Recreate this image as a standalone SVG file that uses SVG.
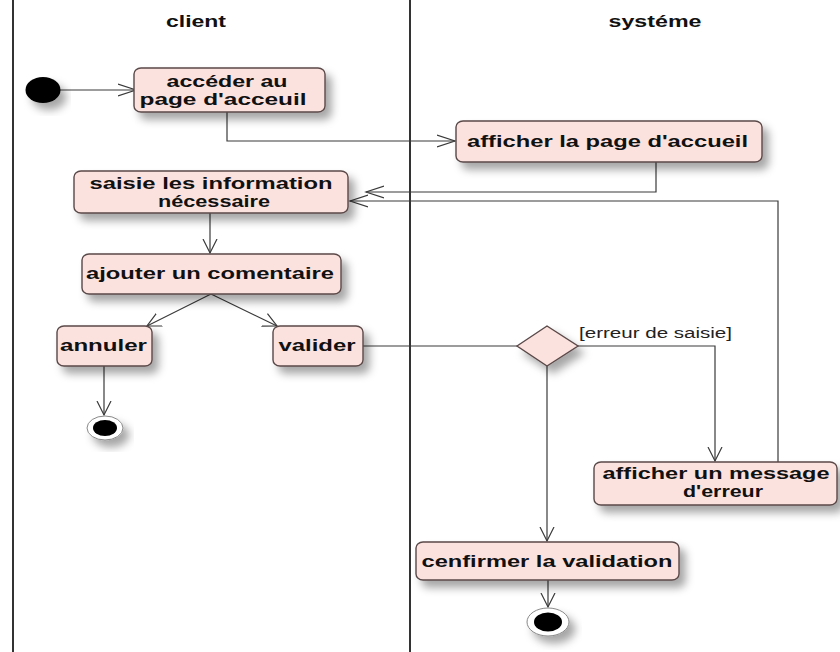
<svg xmlns="http://www.w3.org/2000/svg" width="840" height="652" viewBox="0 0 840 652">
  <defs>
    <filter id="shadow" x="-20%" y="-30%" width="150%" height="180%">
      <feDropShadow dx="6" dy="7" stdDeviation="4" flood-color="#000" flood-opacity="0.35"/>
    </filter>
    <marker id="arrowH" markerUnits="userSpaceOnUse" markerWidth="20" markerHeight="14" refX="18" refY="7" orient="auto">
      <path d="M0,1 L18,7 L0,13" fill="none" stroke="#3a3a3a" stroke-width="1.2"/>
    </marker>
    <marker id="arrowV" markerUnits="userSpaceOnUse" markerWidth="16" markerHeight="16" refX="14" refY="8" orient="auto">
      <path d="M0,1 L14,8 L0,15" fill="none" stroke="#3a3a3a" stroke-width="1.2"/>
    </marker>
    <style>
      .lane { stroke: #333; stroke-width: 2; }
      .title { font-family: "Liberation Sans", Arial, sans-serif; font-weight: bold; font-size: 17px; fill: #111; }
      .act rect, .act polygon { fill: #fce2de; stroke: #5a4848; stroke-width: 1.4; }
      .act text { font-family: "Liberation Sans", Arial, sans-serif; font-weight: bold; font-size: 17px; fill: #111; }
      .act text.two { font-size: 16px; }
      .guard { font-family: "Liberation Sans", Arial, sans-serif; font-size: 14px; fill: #222; }
      .edge { fill: none; stroke: #3a3a3a; stroke-width: 1.2; }
    </style>
  </defs>

  <rect width="840" height="652" fill="#fff"/>

  <!-- swimlanes -->
  <g id="lanes">
    <line class="lane" x1="13" y1="0" x2="13" y2="652"/>
    <line class="lane" x1="410" y1="0" x2="410" y2="652"/>
    <text class="title" x="196" y="27" text-anchor="middle" textLength="60" lengthAdjust="spacingAndGlyphs">client</text>
    <text class="title" x="655" y="27" text-anchor="middle" textLength="93" lengthAdjust="spacingAndGlyphs">systéme</text>
  </g>

  <!-- connectors -->
  <g id="connectors">
    <path class="edge" d="M60,90 H136" marker-end="url(#arrowH)"/>
    <path class="edge" d="M227,112 V141 H455" marker-end="url(#arrowH)"/>
    <path class="edge" d="M656,162 V192 H366" marker-end="url(#arrowH)"/>
    <path class="edge" d="M778,462 V201 H350" marker-end="url(#arrowH)"/>
    <path class="edge" d="M210,213 V253" marker-end="url(#arrowV)"/>
    <path class="edge" d="M211,294 L147,326" marker-end="url(#arrowV)"/>
    <path class="edge" d="M211,294 L277,326" marker-end="url(#arrowV)"/>
    <path class="edge" d="M104,366 V415" marker-end="url(#arrowV)"/>
    <path class="edge" d="M363,346 H517"/>
    <path class="edge" d="M578,346 H715 V461" marker-end="url(#arrowV)"/>
    <path class="edge" d="M547,366 V541" marker-end="url(#arrowV)"/>
    <path class="edge" d="M548,580 V607" marker-end="url(#arrowV)"/>
    <text class="guard" x="579" y="338" textLength="153" lengthAdjust="spacingAndGlyphs">[erreur de saisie]</text>
  </g>

  <!-- start -->
  <g id="start">
    <ellipse cx="43" cy="90" rx="17.5" ry="13" fill="#000" filter="url(#shadow)"/>
  </g>

  <g id="acceder" class="act">
    <rect x="134" y="68" width="191" height="44" rx="7" ry="6" filter="url(#shadow)"/>
    <text class="two" x="227" y="87" text-anchor="middle" textLength="121" lengthAdjust="spacingAndGlyphs">accéder au</text>
    <text class="two" x="223" y="105" text-anchor="middle" textLength="167" lengthAdjust="spacingAndGlyphs">page d'acceuil</text>
  </g>

  <g id="afficherPage" class="act">
    <rect x="456" y="121" width="306" height="41" rx="7" ry="6" filter="url(#shadow)"/>
    <text x="607.5" y="147" text-anchor="middle" textLength="281" lengthAdjust="spacingAndGlyphs">afficher la page d'accueil</text>
  </g>

  <g id="saisie" class="act">
    <rect x="74" y="171" width="274" height="42" rx="7" ry="6" filter="url(#shadow)"/>
    <text class="two" x="211" y="189" text-anchor="middle" textLength="243" lengthAdjust="spacingAndGlyphs">saisie les information</text>
    <text class="two" x="214" y="207" text-anchor="middle" textLength="112" lengthAdjust="spacingAndGlyphs">nécessaire</text>
  </g>

  <g id="ajouter" class="act">
    <rect x="82" y="254" width="259" height="40" rx="7" ry="6" filter="url(#shadow)"/>
    <text x="210" y="279" text-anchor="middle" textLength="248" lengthAdjust="spacingAndGlyphs">ajouter un comentaire</text>
  </g>

  <g id="annuler" class="act">
    <rect x="57" y="326" width="95" height="40" rx="7" ry="6" filter="url(#shadow)"/>
    <text x="103.5" y="351" text-anchor="middle" textLength="87" lengthAdjust="spacingAndGlyphs">annuler</text>
  </g>

  <g id="valider" class="act">
    <rect x="273" y="326" width="90" height="40" rx="7" ry="6" filter="url(#shadow)"/>
    <text x="317" y="351" text-anchor="middle" textLength="77" lengthAdjust="spacingAndGlyphs">valider</text>
  </g>

  <g id="endCancel">
    <ellipse cx="105" cy="428" rx="18" ry="12" fill="#fff" stroke="#888" stroke-width="1" filter="url(#shadow)"/>
    <ellipse cx="105" cy="428" rx="12" ry="8" fill="#000"/>
  </g>

  <g id="decision" class="act">
    <polygon points="517,346 547,326 578,346 547,366" filter="url(#shadow)"/>
  </g>

  <g id="erreur" class="act">
    <rect x="594" y="462" width="243" height="43" rx="7" ry="6" filter="url(#shadow)"/>
    <text class="two" x="716" y="479" text-anchor="middle" textLength="227" lengthAdjust="spacingAndGlyphs">afficher un message</text>
    <text class="two" x="723" y="497" text-anchor="middle" textLength="80" lengthAdjust="spacingAndGlyphs">d'erreur</text>
  </g>

  <g id="confirmer" class="act">
    <rect x="416" y="542" width="263" height="38" rx="7" ry="6" filter="url(#shadow)"/>
    <text x="547" y="567" text-anchor="middle" textLength="251" lengthAdjust="spacingAndGlyphs">cenfirmer la validation</text>
  </g>

  <g id="endValid">
    <ellipse cx="548" cy="622" rx="21" ry="14" fill="#fff" stroke="#888" stroke-width="1" filter="url(#shadow)"/>
    <ellipse cx="548" cy="622" rx="14" ry="9.5" fill="#000"/>
  </g>
</svg>
